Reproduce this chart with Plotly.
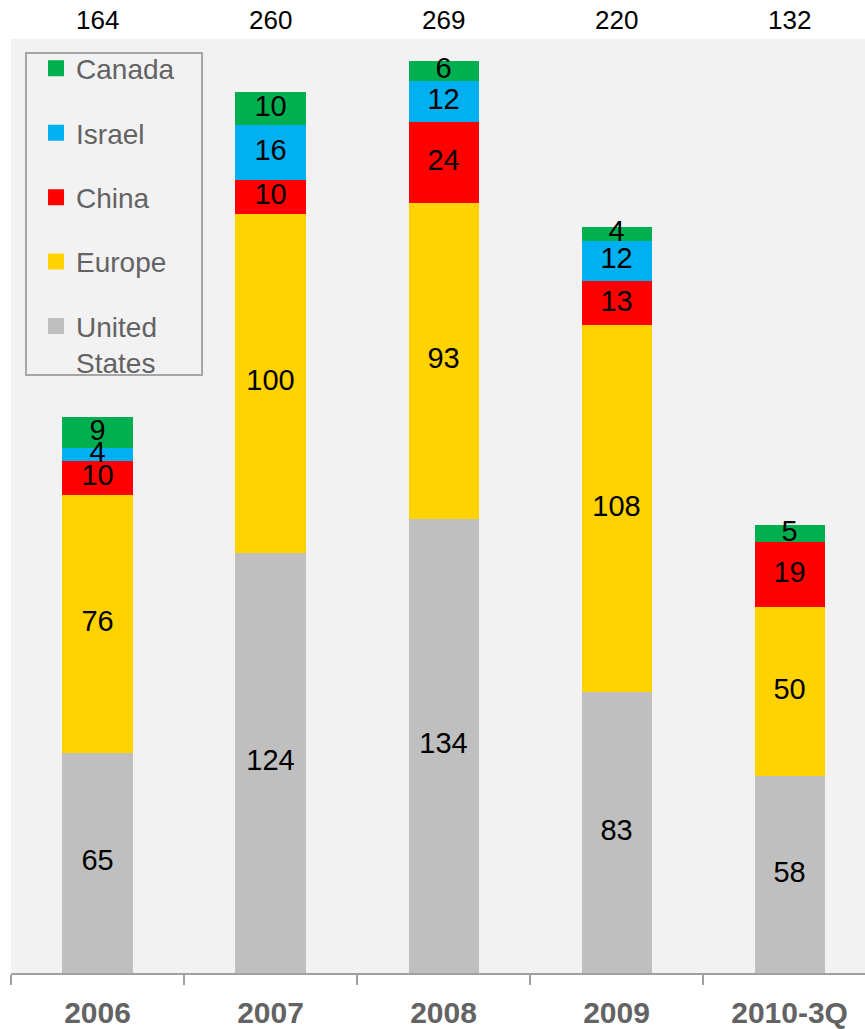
import plotly.graph_objects as go

# Investment by region, stacked per year
years = ["2006", "2007", "2008", "2009", "2010-3Q"]
united_states = [65, 124, 134, 83, 58]
europe = [76, 100, 93, 108, 50]
china = [10, 10, 24, 13, 19]
israel = [4, 16, 12, 12, 0]
canada = [9, 10, 6, 4, 5]
totals = [164, 260, 269, 220, 132]

series = [
    ("United<br>States", united_states, "#BFBFBF"),
    ("Europe", europe, "#FFD200"),
    ("China", china, "#FF0000"),
    ("Israel", israel, "#00B0F0"),
    ("Canada", canada, "#00B050"),
]

FONT = "Liberation Sans, Arial, sans-serif"

fig = go.Figure()

base = [0] * len(years)
label_x, label_y, label_t = [], [], []
for name, vals, color in series:
    fig.add_trace(go.Bar(
        x=years, y=vals, name=name, marker=dict(color=color, line=dict(width=0)),
        width=0.405, showlegend=False,
    ))
    for i, v in enumerate(vals):
        if v > 0:
            label_x.append(years[i])
            label_y.append(base[i] + v / 2)
            label_t.append(str(v))
        base[i] += v

# legend entries with square swatches, top to bottom: Canada ... United States
for name, vals, color in reversed(series):
    fig.add_trace(go.Scatter(
        x=[None], y=[None], mode="markers", name=name, legendgroup=name,
        marker=dict(symbol="square", size=16, color=color, line=dict(width=0)),
    ))

# segment value labels
fig.add_trace(go.Scatter(
    x=label_x, y=label_y, text=label_t, mode="text",
    textfont=dict(family=FONT, size=29, color="#000000"),
    textposition="middle center", showlegend=False, hoverinfo="skip",
    cliponaxis=False,
))

# totals above the plot area
for i, t in enumerate(totals):
    fig.add_annotation(
        x=i, y=1, xref="x", yref="paper", yanchor="bottom", yshift=2,
        text=str(t), showarrow=False,
        font=dict(family=FONT, size=26, color="#000000"),
    )

# legend frame
fig.add_shape(
    type="rect", xref="paper", yref="paper",
    x0=0.0176, x1=0.2237, y0=0.6403, y1=0.985,
    line=dict(color="#A6A6A6", width=2), fillcolor="rgba(0,0,0,0)",
)

fig.update_layout(
    width=865, height=1029,
    margin=dict(l=11, r=0, t=39, b=56),
    paper_bgcolor="#FFFFFF",
    plot_bgcolor="#F2F2F2",
    barmode="stack",
    bargap=0,
    showlegend=True,
    legend=dict(
        x=0.0293, y=0.995, xanchor="left", yanchor="top",
        bgcolor="rgba(0,0,0,0)", borderwidth=0,
        font=dict(family=FONT, size=28, color="#636363"),
        traceorder="grouped", tracegroupgap=25, valign="top",
        itemsizing="trace",
    ),
    xaxis=dict(
        type="category", range=[-0.5, 4.436],
        showline=True, linecolor="#A0A0A0", linewidth=2,
        ticks="outside", tickson="boundaries", ticklen=10, tickcolor="#A0A0A0", tickwidth=2,
        tickfont=dict(family=FONT, size=30, color="#636363", weight="bold"),
        ticklabelstandoff=12,
        showgrid=False, zeroline=False,
    ),
    yaxis=dict(
        range=[0, 275.5], visible=False, showgrid=False, zeroline=False,
    ),
)

fig.write_html("out.html")
